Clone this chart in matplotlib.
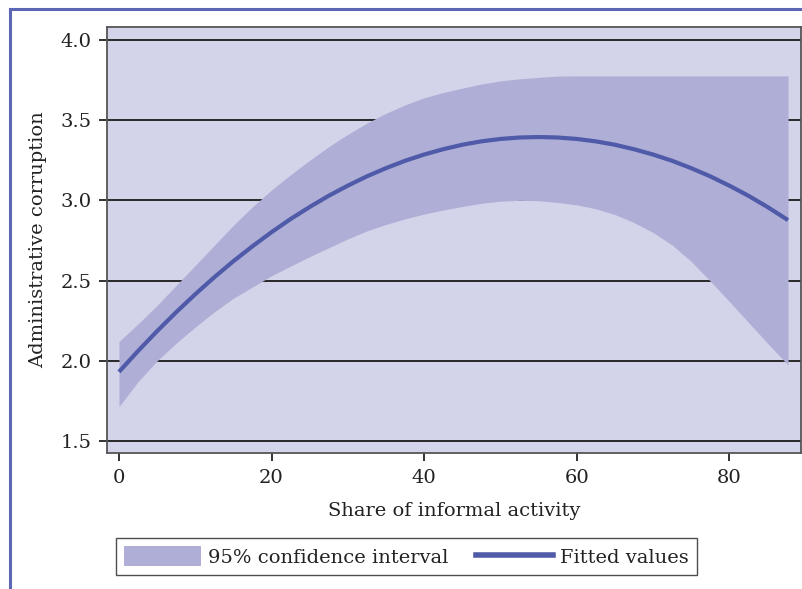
import matplotlib
matplotlib.use("Agg")
import matplotlib.pyplot as plt
from matplotlib.lines import Line2D
from matplotlib.patches import Patch

# ---- data ----
fit_x = [0, 2.5, 5, 7.5, 10, 12.5, 15, 17.5, 20, 22.5, 25, 27.5, 30, 32.5, 35, 37.5,
         40, 42.5, 45, 47.5, 50, 52.5, 55, 57.5, 60, 62.5, 65, 67.5, 70, 72.5, 75,
         77.5, 80, 82.5, 85, 87.7]
fit_y = [1.931, 2.061, 2.185, 2.303, 2.415, 2.521, 2.621, 2.714, 2.802, 2.884, 2.959,
         3.029, 3.092, 3.150, 3.201, 3.247, 3.286, 3.319, 3.347, 3.368, 3.383, 3.392,
         3.395, 3.392, 3.383, 3.368, 3.347, 3.319, 3.286, 3.247, 3.201, 3.150, 3.092,
         3.029, 2.959, 2.877]

band_x = [0, 2.5, 5, 7.5, 10, 12.5, 15, 17.5, 20, 22.5, 25, 27.5, 30, 32.5, 35, 37.5,
          40, 42.5, 45, 47.5, 50, 52.5, 55, 57.5, 60, 62.5, 65, 67.5, 70, 72.5, 75,
          77.5, 80, 82.5, 85, 87.7]
band_upper = [2.12, 2.23, 2.345, 2.47, 2.595, 2.72, 2.845, 2.96, 3.065, 3.16, 3.25,
              3.335, 3.412, 3.482, 3.543, 3.595, 3.64, 3.672, 3.70, 3.725, 3.745, 3.758,
              3.767, 3.775, 3.776, 3.776, 3.776, 3.776, 3.776, 3.776, 3.776, 3.776,
              3.776, 3.776, 3.776, 3.776]
band_lower = [1.714, 1.87, 2.0, 2.11, 2.21, 2.305, 2.39, 2.46, 2.53, 2.59, 2.649, 2.705,
              2.76, 2.81, 2.85, 2.885, 2.915, 2.94, 2.962, 2.982, 2.995, 3.0, 2.998,
              2.987, 2.972, 2.948, 2.912, 2.862, 2.80, 2.722, 2.62, 2.497, 2.37, 2.24,
              2.11, 1.974]

y_ticks = [1.5, 2.0, 2.5, 3.0, 3.5, 4.0]
y_ticklabels = ["1.5", "2.0", "2.5", "3.0", "3.5", "4.0"]
x_ticks = [0, 20, 40, 60, 80]
x_ticklabels = ["0", "20", "40", "60", "80"]

x_label = "Share of informal activity"
y_label = "Administrative corruption"
legend_labels = ["95% confidence interval", "Fitted values"]

# ---- styling ----
BG = "#d3d3e9"
BAND = "#afaed6"
LINE = "#4f5aa8"
FRAME = "#5b66b5"
TXT = "#222222"
FONT = "DejaVu Serif"
FS = 14

W, H = 803, 589
fig = plt.figure(figsize=(W / 100, H / 100), dpi=100)
fig.patch.set_facecolor("white")

ax = fig.add_axes([107 / W, 1 - 453 / H, (801 - 107) / W, (453 - 27) / H])
ax.set_facecolor(BG)

for yv in y_ticks:
    ax.axhline(yv, color="#1a1a1a", linewidth=1.3, zorder=0.8)

ax.fill_between(band_x, band_lower, band_upper, color=BAND, linewidth=0, zorder=1)
ax.plot(fit_x, fit_y, color=LINE, linewidth=3.0, zorder=3, solid_capstyle="butt")

ax.set_xlim(-1.57, 89.4)
ax.set_ylim(1.425, 4.081)
ax.set_yticks(y_ticks)
ax.set_yticklabels(y_ticklabels, fontsize=FS, family=FONT, color=TXT)
ax.set_xticks(x_ticks)
ax.set_xticklabels(x_ticklabels, fontsize=FS, family=FONT, color=TXT)
ax.tick_params(axis="y", length=6, width=1.3, pad=5, color=TXT)
ax.tick_params(axis="x", length=5.5, width=1.3, pad=6, color=TXT)

for s in ax.spines.values():
    s.set_color("#555555")
    s.set_linewidth(1.3)
    s.set_zorder(4)

ax.set_xlabel(x_label, fontsize=FS, family=FONT, color=TXT, labelpad=11)
ax.set_ylabel(y_label, fontsize=FS, family=FONT, color=TXT, labelpad=10)

handles = [Patch(facecolor=BAND, edgecolor="none"),
           Line2D([0], [0], color=LINE, linewidth=4)]
leg = fig.legend(handles, legend_labels, loc="center",
                 bbox_to_anchor=(406.5 / W, 1 - 556.5 / H), ncol=2,
                 prop={"family": FONT, "size": FS}, frameon=True, fancybox=False,
                 edgecolor=TXT, handlelength=3.96, handleheight=1.18,
                 handletextpad=0.36, columnspacing=1.44, borderpad=0.41,
                 borderaxespad=0)
leg.get_frame().set_linewidth(1.0)
for t in leg.get_texts():
    t.set_color(TXT)

# outer frame lines (left and top)
fig.add_artist(Line2D([10 / W, 10 / W], [0, 1 - 9 / H], color=FRAME, linewidth=2.2,
                      transform=fig.transFigure))
fig.add_artist(Line2D([10 / W, 1], [1 - 9 / H, 1 - 9 / H], color=FRAME, linewidth=2.2,
                      transform=fig.transFigure))

fig.savefig("out.png", dpi=100)
